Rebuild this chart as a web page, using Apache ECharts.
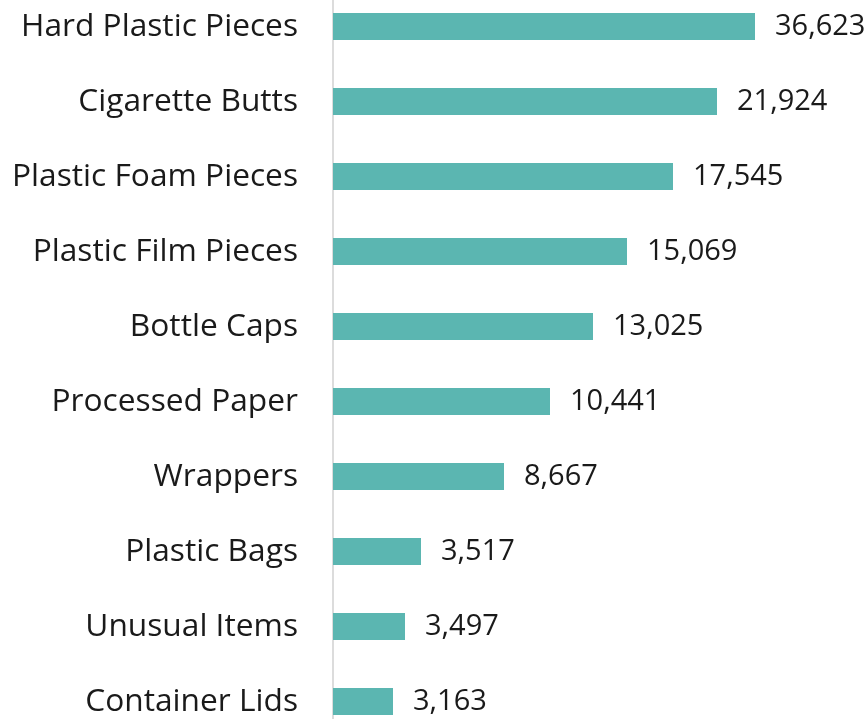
<!DOCTYPE html>
<html>
<head>
<meta charset="utf-8">
<script src="https://cdn.jsdelivr.net/npm/echarts@6/dist/echarts.min.js"></script>
<style>
  html, body { margin: 0; padding: 0; background: #fff; }
  #chart-container { width: 868px; height: 719px; }
</style>
</head>
<body>
<div id="chart-container"></div>
<script>
// categories, top to bottom
const categories = [
  "Hard Plastic Pieces", "Cigarette Butts", "Plastic Foam Pieces", "Plastic Film Pieces",
  "Bottle Caps", "Processed Paper", "Wrappers", "Plastic Bags", "Unusual Items", "Container Lids"
];
// counts printed next to each bar
const itemCounts = [36623, 21924, 17545, 15069, 13025, 10441, 8667, 3517, 3497, 3163];
// bar lengths as drawn in the picture (not proportional to the counts)
const barLengths = [422, 384, 340, 294, 260, 217, 171, 88, 72, 60];

var chartDom = document.getElementById("chart-container");
var myChart = echarts.init(chartDom);

var option = {
  animation: false,
  textStyle: { fontFamily: "'Open Sans', sans-serif" },
  grid: { left: 333, width: 533, top: -11, height: 750, outerBoundsMode: "none", containLabel: false },
  xAxis: {
    type: "value",
    min: 0,
    max: 533,
    show: false
  },
  yAxis: {
    type: "category",
    inverse: true,
    data: categories,
    axisLine: { show: true, lineStyle: { color: "#dcdcdc", width: 2 } },
    axisTick: { show: false },
    axisLabel: {
      margin: 35,
      fontSize: 31.7,
      color: "#1a1a1a",
      fontFamily: "'Open Sans', sans-serif"
    }
  },
  series: [{
    type: "bar",
    data: barLengths,
    barWidth: 27,
    itemStyle: { color: "#5bb6b1" },
    label: {
      show: true,
      position: "right",
      distance: 20,
      fontSize: 29,
      color: "#1a1a1a",
      fontFamily: "'Open Sans', sans-serif",
      formatter: (p) => itemCounts[p.dataIndex].toLocaleString("en-US")
    }
  }]
};

option && myChart.setOption(option);
</script>
</body>
</html>
